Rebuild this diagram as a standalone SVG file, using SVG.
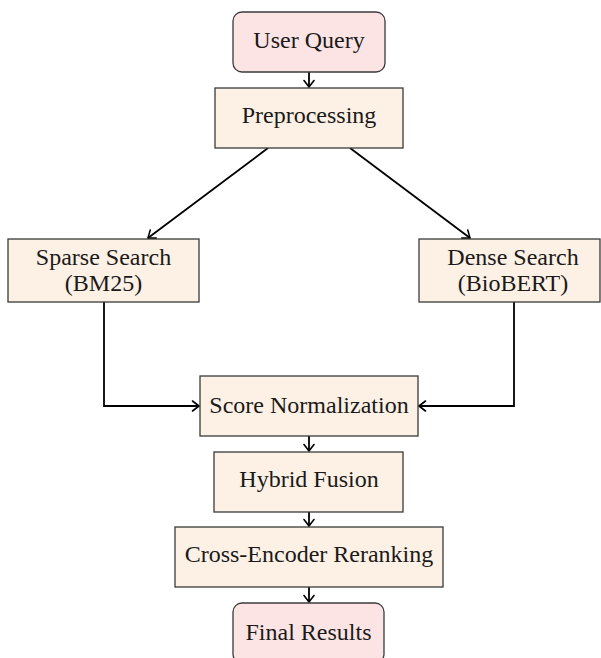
<svg xmlns="http://www.w3.org/2000/svg" width="601" height="658" viewBox="0 0 601 658">
<defs>
<marker id="arr" markerUnits="userSpaceOnUse" markerWidth="14" markerHeight="14" viewBox="-10 -7 12 14" refX="0" refY="0" orient="auto">
<path d="M-6.5,-5 Q-2,-1.5 0,0 Q-2,1.5 -6.5,5" fill="none" stroke="#000" stroke-width="1.6" stroke-linecap="round"/>
</marker>
</defs>
<style>
.box{fill:#fdf0e4;stroke:#3a3a3a;stroke-width:1.3}
.term{fill:#fce4e4;stroke:#3a3a3a;stroke-width:1.3}
.t{font-family:"Liberation Serif","DejaVu Serif",serif;font-size:24px;fill:#1a1a1a;text-anchor:middle}
.c{fill:none;stroke:#000;stroke-width:1.8;marker-end:url(#arr)}
</style>
<rect width="601" height="658" fill="#fff"/>
<g id="connectors">
<path class="c" d="M309,72 V87"/>
<path class="c" d="M268,148 L148,238"/>
<path class="c" d="M350,148 L470,238"/>
<path class="c" d="M104,302 V406 H199"/>
<path class="c" d="M514,302 V406 H419"/>
<path class="c" d="M309,436 V451"/>
<path class="c" d="M309,512 V526"/>
<path class="c" d="M309,587 V602"/>
</g>
<g id="user-query">
<rect class="term" x="233" y="12" width="152" height="60" rx="9"/>
<text class="t" x="309" y="48">User Query</text>
</g>
<g id="preprocessing">
<rect class="box" x="215" y="88" width="188" height="60"/>
<text class="t" x="309" y="123">Preprocessing</text>
</g>
<g id="sparse-search">
<rect class="box" x="8" y="239" width="191" height="63"/>
<text class="t" x="103.5" y="265">Sparse Search</text>
<text class="t" x="103.5" y="291">(BM25)</text>
</g>
<g id="dense-search">
<rect class="box" x="419" y="239" width="181" height="63"/>
<text class="t" x="513" y="265">Dense Search</text>
<text class="t" x="513" y="291">(BioBERT)</text>
</g>
<g id="score-normalization">
<rect class="box" x="200" y="376" width="218" height="60"/>
<text class="t" x="309" y="413">Score Normalization</text>
</g>
<g id="hybrid-fusion">
<rect class="box" x="214" y="452" width="189" height="60"/>
<text class="t" x="309" y="487">Hybrid Fusion</text>
</g>
<g id="cross-encoder-reranking">
<rect class="box" x="175" y="527" width="268" height="60"/>
<text class="t" x="309" y="562">Cross-Encoder Reranking</text>
</g>
<g id="final-results">
<rect class="term" x="233" y="603" width="151" height="60" rx="9"/>
<text class="t" x="308.5" y="640">Final Results</text>
</g>
</svg>
